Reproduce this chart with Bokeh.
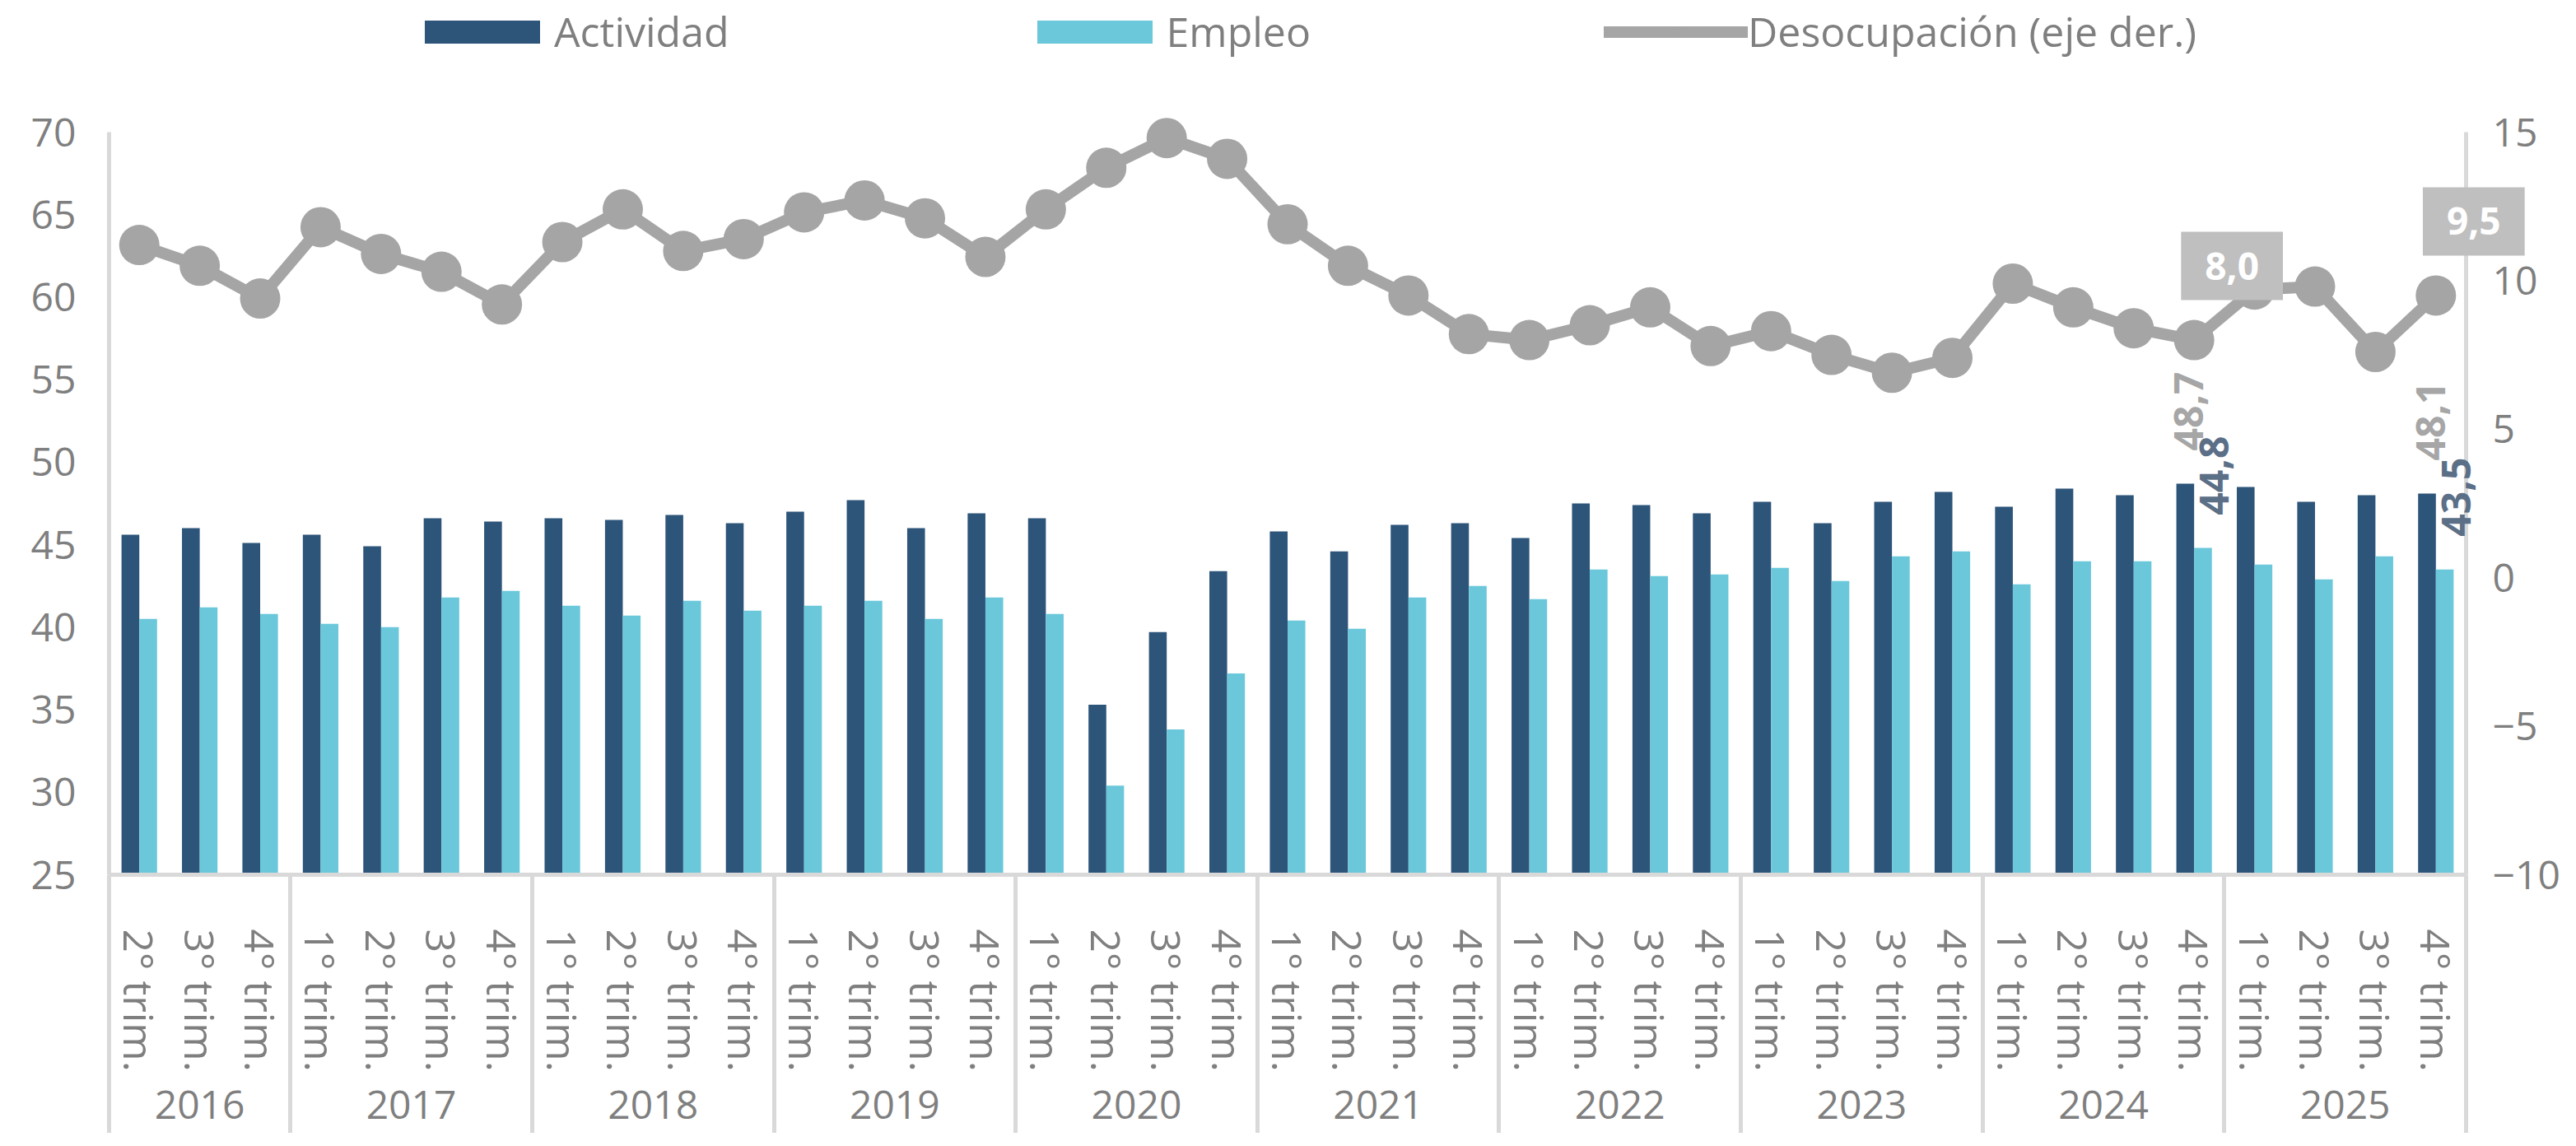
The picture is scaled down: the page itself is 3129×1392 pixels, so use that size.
import math
from bokeh.plotting import figure
from bokeh.models import (ColumnDataSource, Range1d, LinearAxis, FixedTicker,
                          Legend, LegendItem, LabelSet, Label)
from bokeh.transform import dodge
from bokeh.core.properties import value
from bokeh.embed import file_html
from bokeh.resources import INLINE

# ---------------- data ----------------
years = (["2016"] * 3 + ["2017"] * 4 + ["2018"] * 4 + ["2019"] * 4 + ["2020"] * 4 +
         ["2021"] * 4 + ["2022"] * 4 + ["2023"] * 4 + ["2024"] * 4 + ["2025"] * 4)
quarters = (["2° trim.", "3° trim.", "4° trim."] +
            ["1° trim.", "2° trim.", "3° trim.", "4° trim."] * 9)

actividad = [45.6, 46.0, 45.1, 45.6, 44.9, 46.6, 46.4, 46.6, 46.5, 46.8, 46.3,
             47.0, 47.7, 46.0, 46.9, 46.6, 35.3, 39.7, 43.4, 45.8, 44.6, 46.2,
             46.3, 45.4, 47.5, 47.4, 46.9, 47.6, 46.3, 47.6, 48.2, 47.3, 48.4,
             48.0, 48.7, 48.5, 47.6, 48.0, 48.1]
empleo = [40.5, 41.2, 40.8, 40.2, 40.0, 41.8, 42.2, 41.3, 40.7, 41.6, 41.0,
          41.3, 41.6, 40.5, 41.8, 40.8, 30.4, 33.8, 37.2, 40.4, 39.9, 41.8,
          42.5, 41.7, 43.5, 43.1, 43.2, 43.6, 42.8, 44.3, 44.6, 42.6, 44.0,
          44.0, 44.8, 43.8, 42.9, 44.3, 43.5]
desocupacion = [11.2, 10.5, 9.4, 11.8, 10.9, 10.3, 9.2, 11.3, 12.4, 11.0, 11.4,
                12.3, 12.7, 12.1, 10.8, 12.4, 13.8, 14.8, 14.1, 11.9, 10.5, 9.5,
                8.2, 8.0, 8.5, 9.1, 7.8, 8.3, 7.5, 6.9, 7.4, 9.9, 9.1,
                8.4, 8.0, 9.7, 9.8, 7.6, 9.5]

left_ticks = [25, 30, 35, 40, 45, 50, 55, 60, 65, 70]
right_ticks = [-10, -5, 0, 5, 10, 15]
label_index = [34, 38]   # periods with data labels

# ---------------- styles / geometry (pixels) ----------------
DARK = "#2D5479"
LIGHT = "#6AC8DA"
GREY_LINE = "#A5A5A5"
TICK_GREY = "#7F7F7F"
AXIS_GREY = "#D9D9D9"
FONT = "Open Sans"

FIG_W, FIG_H = 3113, 1376
PLOT_L, PLOT_R = 132, 2995      # category area, x pixels in the figure
PLOT_T, PLOT_B = 160, 1062      # value area, y pixels in the figure

n = len(actividad)
xs = list(range(n))

# year group centres and separators derived from the categories
year_names = []
year_centers = []
separators = [-0.5]
i = 0
while i < n:
    j = i
    while j < n and years[j] == years[i]:
        j += 1
    year_names.append(years[i])
    year_centers.append((i + j - 1) / 2.0)
    separators.append(j - 0.5)
    i = j

# ranges extended so the whole canvas is the frame (nothing gets clipped)
x0, x1 = -0.5, n - 0.5
kx = (x1 - x0) / (PLOT_R - PLOT_L)
l0, l1 = left_ticks[0], left_ticks[-1]
r0, r1 = right_ticks[0], right_ticks[-1]
kl = (l1 - l0) / (PLOT_B - PLOT_T)
kr = (r1 - r0) / (PLOT_B - PLOT_T)

p = figure(frame_width=FIG_W, frame_height=FIG_H,
           x_range=Range1d(x0 - PLOT_L * kx, x1 + (FIG_W - PLOT_R) * kx),
           y_range=Range1d(l0 - (FIG_H - PLOT_B) * kl, l1 + PLOT_T * kl),
           x_axis_type=None, y_axis_type=None,
           output_backend="svg", toolbar_location=None,
           min_border_left=0, min_border_top=0, min_border_right=0, min_border_bottom=0)
p.outline_line_color = None
p.background_fill_color = "white"
p.border_fill_color = "white"
p.extra_y_ranges = {"des": Range1d(r0 - (FIG_H - PLOT_B) * kr, r1 + PLOT_T * kr)}

src = ColumnDataSource(dict(x=xs, act=actividad, emp=empleo, des=desocupacion))

r_act = p.vbar(x=dodge("x", -0.147, range=p.x_range), top="act", bottom=l0,
               width=0.294, source=src, fill_color=DARK, line_color=None)
r_emp = p.vbar(x=dodge("x", 0.147, range=p.x_range), top="emp", bottom=l0,
               width=0.294, source=src, fill_color=LIGHT, line_color=None)
r_line = p.line(x="x", y="des", source=src, y_range_name="des", line_color=GREY_LINE,
                line_width=14, line_join="round", line_cap="round")
r_pts = p.scatter(x="x", y="des", source=src, y_range_name="des", size=49,
                  fill_color=GREY_LINE, line_color=None)

fmt = lambda v: f"{v:.1f}".replace(".", ",")
lab = ColumnDataSource(dict(
    x=label_index,
    act=[actividad[k] for k in label_index],
    emp=[empleo[k] for k in label_index],
    act_t=[fmt(actividad[k]) for k in label_index],
    emp_t=[fmt(empleo[k]) for k in label_index],
))
p.add_layout(LabelSet(x="x", y="act", text="act_t", source=lab, angle=math.pi / 2,
                      text_align="left", text_baseline="alphabetic",
                      x_offset=11, y_offset=40,
                      text_font=value(FONT), text_font_style="bold",
                      text_font_size="48px", text_color="#A6A6A6"))
p.add_layout(LabelSet(x="x", y="emp", text="emp_t", source=lab, angle=math.pi / 2,
                      text_align="left", text_baseline="alphabetic",
                      x_offset=42, y_offset=40,
                      text_font=value(FONT), text_font_style="bold",
                      text_font_size="48px", text_color="#5B6F87"))
for k in label_index:
    p.add_layout(Label(x=k, y=desocupacion[k], y_range_name="des",
                       text=fmt(desocupacion[k]),
                       text_align="center", text_baseline="middle",
                       x_offset=46, y_offset=90,
                       text_font=FONT, text_font_style="bold", text_font_size="46px",
                       text_color="white", background_fill_color="#BFBFBF",
                       padding=(29, 25)))

# ---------------- axes (placed at fixed data locations) ----------------
def style(ax, size="48px"):
    ax.major_label_text_font = FONT
    ax.major_label_text_font_size = size
    ax.major_label_text_color = TICK_GREY
    ax.major_tick_line_color = None
    ax.minor_tick_line_color = None
    ax.major_tick_out = 0
    ax.major_tick_in = 0
    ax.minor_tick_out = 0
    ax.minor_tick_in = 0

yl = LinearAxis(ticker=FixedTicker(ticks=left_ticks), bounds=(l0, l1), fixed_location=x0)
style(yl)
yl.axis_line_color = AXIS_GREY
yl.axis_line_width = 5
yl.major_label_standoff = 40
p.add_layout(yl, "left")

yr = LinearAxis(y_range_name="des", ticker=FixedTicker(ticks=right_ticks),
                bounds=(r0, r1), fixed_location=x1)
style(yr)
yr.axis_line_color = AXIS_GREY
yr.axis_line_width = 5
yr.major_label_standoff = 32
p.add_layout(yr, "right")

SEP_LEN = 340
xq = LinearAxis(ticker=FixedTicker(ticks=xs, minor_ticks=separators),
                major_label_overrides={k: q for k, q in zip(xs, quarters)},
                bounds=(x0, x1), fixed_location=l0)
style(xq, "50px")
xq.axis_line_color = AXIS_GREY
xq.axis_line_width = 5
xq.major_label_orientation = "vertical"
xq.minor_tick_line_color = AXIS_GREY
xq.minor_tick_line_width = 5
xq.minor_tick_out = SEP_LEN
xq.major_label_standoff = 66 - SEP_LEN
p.add_layout(xq, "below")

xy = LinearAxis(ticker=FixedTicker(ticks=year_centers),
                major_label_overrides={c: y for c, y in zip(year_centers, year_names)},
                bounds=(x0, x1), fixed_location=l0)
style(xy)
xy.axis_line_color = None
xy.major_label_standoff = 262
p.add_layout(xy, "below")

# ---------------- legend (top strip) ----------------
legend = Legend(items=[LegendItem(label="Actividad", renderers=[r_act]),
                       LegendItem(label="Empleo", renderers=[r_emp]),
                       LegendItem(label="Desocupación (eje der.)", renderers=[r_line, r_pts])],
                location=(PLOT_L + 366, FIG_H - 72), orientation="horizontal",
                glyph_width=175, glyph_height=35, label_height=35,
                label_standoff=0, padding=0, margin=0, spacing=356,
                border_line_color=None, background_fill_alpha=0,
                label_text_font=FONT, label_text_font_size="50px",
                label_text_color=TICK_GREY)
p.add_layout(legend)

open("out.html", "w").write(file_html(p, INLINE))
